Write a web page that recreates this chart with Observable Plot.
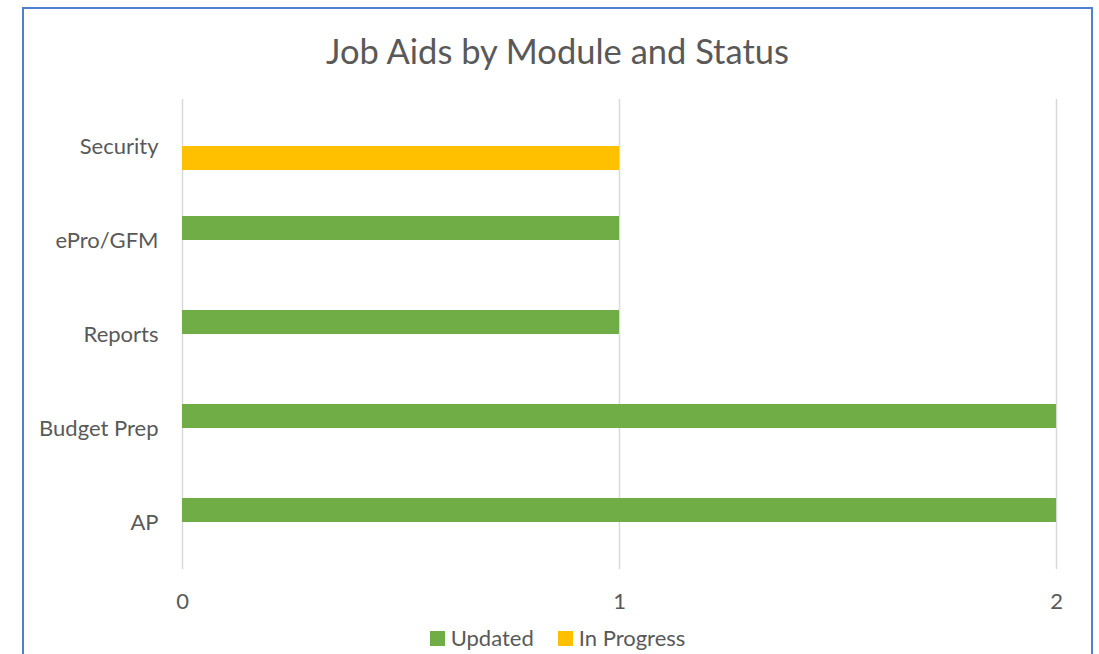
<!DOCTYPE html>
<html>
<head>
<meta charset="utf-8">
<script src="https://cdn.jsdelivr.net/npm/d3@7"></script>
<script src="https://cdn.jsdelivr.net/npm/@observablehq/plot@0.6"></script>
<style>
  html, body { margin: 0; padding: 0; background: #fff; width: 1099px; height: 654px; overflow: hidden; }
  body { position: relative; font-family: Lato, "Open Sans", sans-serif; color: #595959; }
  #frame { position: absolute; left: 22px; top: 7px; width: 1067px; height: 700px; border: 2px solid #4f7fd0; box-sizing: content-box; }
  #title { position: absolute; left: 22px; top: 26px; width: 1071px; text-align: center; font-size: 34.5px; line-height: 50px; color: #595959; }
  #chart { position: absolute; left: 0; top: 80px; }
  #legend { position: absolute; left: 22px; top: 625px; width: 1071px; display: flex; justify-content: center; align-items: center; font-size: 22px; line-height: 26px; color: #595959; }
  .item { display: flex; align-items: center; margin: 0 12px; }
  .sw { width: 15px; height: 15px; margin-right: 6px; }
</style>
</head>
<body>
<div id="frame"></div>
<div id="title">Job Aids by Module and Status</div>
<div id="chart"></div>
<div id="legend"></div>
<script>
const modules = ["Security", "ePro/GFM", "Reports", "Budget Prep", "AP"];
const updated = [0, 1, 1, 2, 2];
const inProgress = [1, 0, 0, 0, 0];
const statuses = ["Updated", "In Progress"];
const colors = ["#70AD47", "#FFC000"];
const xTicks = [0, 1, 2];

const rows = modules.flatMap((m, i) => [
  {module: m, status: statuses[0], value: updated[i]},
  {module: m, status: statuses[1], value: inProgress[i]}
]);

const chart = Plot.plot({
  width: 1099,
  height: 540,
  marginLeft: 182,
  marginRight: 43,
  marginTop: 17,
  marginBottom: 50,
  style: {fontFamily: "Lato, 'Open Sans', sans-serif", fontSize: "22px", color: "#595959", background: "transparent"},
  facet: {data: rows, y: "module"},
  fy: {domain: modules, padding: 0, label: null, axis: "left", tickSize: 0, tickPadding: 24},
  y: {domain: statuses, axis: null, paddingInner: 0, paddingOuter: 0.892},
  x: {domain: [0, 2], ticks: xTicks, tickSize: 0, tickPadding: 24, label: null, tickFormat: d3.format("d")},
  color: {domain: statuses, range: colors},
  marks: [
    Plot.ruleX(xTicks, {stroke: "#d9d9d9", strokeWidth: 1.5}),
    Plot.barX(rows, {x: "value", y: "status", fill: "status"})
  ]
});
document.getElementById("chart").appendChild(chart);

const legend = document.getElementById("legend");
statuses.forEach((s, i) => {
  const it = document.createElement("div");
  it.className = "item";
  const sw = document.createElement("div");
  sw.className = "sw";
  sw.style.background = colors[i];
  const tx = document.createElement("span");
  tx.textContent = s;
  it.appendChild(sw);
  it.appendChild(tx);
  legend.appendChild(it);
});
</script>
</body>
</html>
